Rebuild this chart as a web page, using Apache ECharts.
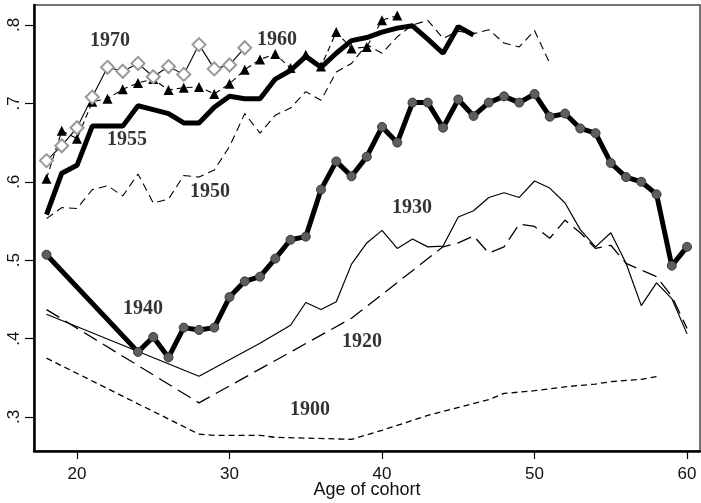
<!DOCTYPE html>
<html>
<head>
<meta charset="utf-8">
<script src="https://cdn.jsdelivr.net/npm/echarts@6/dist/echarts.min.js"></script>
<style>
  html, body { margin: 0; padding: 0; background: #fff; }
  #chart { width: 701px; height: 503px; }
</style>
</head>
<body>
<div id="chart"></div>
<script>
  // cohort curves, age -> share
  var ages1970 = [18, 19, 20, 21, 22, 23, 24, 25, 26, 27, 28, 29, 30, 31];
  var vals1970 = [0.627, 0.646, 0.669, 0.708, 0.746, 0.741, 0.751, 0.734, 0.747, 0.737, 0.775, 0.744, 0.749, 0.771];

  var ages1960 = [18, 19, 20, 21, 22, 23, 24, 25, 26, 27, 28, 29, 30, 31, 32, 33, 34, 35, 36, 37, 38, 39, 40, 41];
  var vals1960 = [0.604, 0.665, 0.655, 0.702, 0.706, 0.718, 0.726, 0.731, 0.717, 0.720, 0.721, 0.712, 0.725, 0.743, 0.756, 0.763, 0.745, 0.762, 0.747, 0.791, 0.770, 0.772, 0.806, 0.812];

  var ages1955 = [18, 19, 20, 21, 22, 23, 24, 25, 26, 27, 28, 29, 30, 31, 32, 33, 34, 35, 36, 37, 38, 39, 40, 41, 42, 43, 44, 45, 46];
  var vals1955 = [0.558, 0.611, 0.621, 0.671, 0.671, 0.671, 0.697, 0.692, 0.687, 0.675, 0.675, 0.695, 0.709, 0.706, 0.706, 0.731, 0.742, 0.760, 0.746, 0.764, 0.780, 0.784, 0.791, 0.796, 0.799, 0.782, 0.764, 0.798, 0.787];

  var ages1950 = [18, 19, 20, 21, 22, 23, 24, 25, 26, 27, 28, 29, 30, 31, 32, 33, 34, 35, 36, 37, 38, 39, 40, 41, 42, 43, 44, 45, 46, 47, 48, 49, 50, 51];
  var vals1950 = [0.553, 0.567, 0.566, 0.590, 0.595, 0.582, 0.610, 0.573, 0.578, 0.608, 0.606, 0.615, 0.645, 0.687, 0.662, 0.685, 0.694, 0.715, 0.704, 0.740, 0.751, 0.775, 0.764, 0.785, 0.800, 0.806, 0.783, 0.792, 0.789, 0.794, 0.777, 0.772, 0.793, 0.751];

  var ages1940 = [18, 24, 25, 26, 27, 28, 29, 30, 31, 32, 33, 34, 35, 36, 37, 38, 39, 40, 41, 42, 43, 44, 45, 46, 47, 48, 49, 50, 51, 52, 53, 54, 55, 56, 57, 58, 59, 60];
  var vals1940 = [0.507, 0.383, 0.402, 0.376, 0.414, 0.411, 0.414, 0.453, 0.473, 0.479, 0.502, 0.526, 0.530, 0.590, 0.626, 0.607, 0.632, 0.670, 0.650, 0.701, 0.701, 0.669, 0.705, 0.684, 0.701, 0.709, 0.701, 0.712, 0.683, 0.687, 0.668, 0.662, 0.624, 0.606, 0.600, 0.584, 0.493, 0.517];

  var ages1930 = [18, 28, 30, 32, 34, 35, 36, 37, 38, 39, 40, 41, 42, 43, 44, 45, 46, 47, 48, 49, 50, 51, 52, 53, 54, 55, 56, 57, 58, 59, 60];
  var vals1930 = [0.431, 0.352, 0.373, 0.394, 0.417, 0.446, 0.437, 0.447, 0.495, 0.522, 0.538, 0.515, 0.527, 0.517, 0.518, 0.555, 0.563, 0.580, 0.586, 0.580, 0.601, 0.592, 0.573, 0.539, 0.517, 0.535, 0.496, 0.442, 0.471, 0.451, 0.406];

  var ages1920 = [18, 28, 38, 44, 45, 46, 47, 48, 49, 50, 51, 52, 53, 54, 55, 56, 58, 59, 60];
  var vals1920 = [0.437, 0.318, 0.426, 0.517, 0.522, 0.531, 0.509, 0.517, 0.546, 0.543, 0.528, 0.551, 0.535, 0.515, 0.519, 0.496, 0.479, 0.454, 0.413];

  var ages1900 = [18, 28, 29, 32, 33, 38, 40, 43, 47, 48, 50, 52, 54, 55, 57, 58];
  var vals1900 = [0.375, 0.278, 0.2765, 0.2765, 0.274, 0.2715, 0.283, 0.302, 0.322, 0.330, 0.3335, 0.3385, 0.342, 0.345, 0.348, 0.3515];

  // in-plot cohort labels
  var labelText = ['1970', '1960', '1955', '1950', '1940', '1930', '1920', '1900'];
  var labelAge = [22.16, 33.11, 23.28, 28.72, 24.33, 41.97, 38.69, 35.28];
  var labelVal = [0.7796, 0.7809, 0.6533, 0.587, 0.4378, 0.5666, 0.3957, 0.3089];

  var xTicks = [20, 30, 40, 50, 60];
  var yTicks = [0.3, 0.4, 0.5, 0.6, 0.7, 0.8];

  function pairs(a, v) {
    return a.map(function (x, i) { return [x, v[i]]; });
  }

  function lineSeries(name, a, v, width, type, extra) {
    var s = {
      name: name,
      type: 'line',
      data: pairs(a, v),
      showSymbol: false,
      symbol: 'none',
      lineStyle: { color: '#000', width: width, type: type },
      animation: false,
      z: 2
    };
    for (var k in extra) s[k] = extra[k];
    return s;
  }

  var chart = echarts.init(document.getElementById('chart'));

  var option = {
    animation: false,
    grid: {
      left: 34, top: 5, width: 666, height: 446,
      outerBoundsMode: 'none',
      show: true, borderColor: '#444', borderWidth: 1.5, backgroundColor: '#fff'
    },
    xAxis: {
      type: 'value',
      min: 17.18, max: 60.85,
      name: 'Age of cohort',
      nameLocation: 'middle',
      nameGap: 30,
      nameMoveOverlap: false,
      nameTextStyle: { fontFamily: 'Liberation Sans', fontSize: 18, color: '#111' },
      splitLine: { show: false },
      axisLine: { show: true, onZero: false, lineStyle: { color: '#000', width: 2.5 } },
      axisTick: { show: true, length: 8, lineStyle: { color: '#000', width: 1.2 }, customValues: xTicks },
      axisLabel: { fontFamily: 'Liberation Sans', fontSize: 17, color: '#111', margin: 15, customValues: xTicks }
    },
    yAxis: {
      type: 'value',
      min: 0.2566, max: 0.8255,
      splitLine: { show: false },
      axisLine: { show: true, onZero: false, lineStyle: { color: '#000', width: 2.5 } },
      axisTick: { show: true, length: 9, lineStyle: { color: '#000', width: 1.2 }, customValues: yTicks },
      axisLabel: {
        fontFamily: 'Liberation Sans', fontSize: 17, color: '#111', margin: 11, rotate: 90,
        customValues: yTicks,
        formatter: function (v) { return String(Math.round(v * 10) / 10).replace('0.', '.'); }
      }
    },
    series: [
      lineSeries('1900', ages1900, vals1900, 1.3, [6, 4], {}),
      lineSeries('1920', ages1920, vals1920, 1.3, [15, 7], {}),
      lineSeries('1930', ages1930, vals1930, 1.2, 'solid', {}),
      lineSeries('1950', ages1950, vals1950, 1.1, [8, 5], {}),
      lineSeries('1940', ages1940, vals1940, 5, 'solid', {
        showSymbol: true, symbol: 'circle', symbolSize: 9,
        itemStyle: { color: '#5e5e5e', borderColor: '#3a3a3a', borderWidth: 1 }
      }),
      lineSeries('1955', ages1955, vals1955, 5, 'solid', {}),
      lineSeries('1960', ages1960, vals1960, 1.1, [6, 4], {
        showSymbol: true, symbol: 'triangle', symbolSize: 10,
        itemStyle: { color: '#000' }
      }),
      lineSeries('1970', ages1970, vals1970, 1.1, 'solid', {
        showSymbol: true, symbol: 'emptyDiamond', symbolSize: 13,
        itemStyle: { color: '#999', borderColor: '#999', borderWidth: 1.5 }
      }),
      {
        type: 'scatter',
        symbolSize: 0,
        silent: true,
        animation: false,
        z: 5,
        data: labelText.map(function (t, i) { return { name: t, value: [labelAge[i], labelVal[i]] }; }),
        label: {
          show: true, position: 'inside', formatter: '{b}',
          fontFamily: 'Liberation Serif', fontWeight: 'bold', fontSize: 20, color: '#000'
        }
      }
    ]
  };

  chart.setOption(option);
</script>
</body>
</html>
